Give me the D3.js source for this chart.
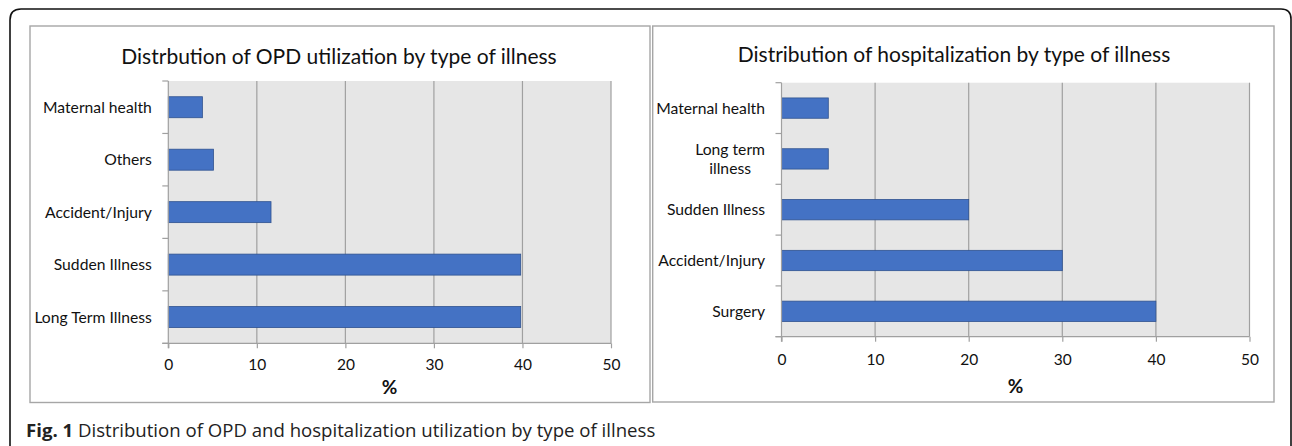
<!DOCTYPE html>
<html>
<head>
<meta charset="utf-8">
<script src="https://cdn.jsdelivr.net/npm/d3@7"></script>
<style>
  body { margin: 0; background: #fff; }
  svg { display: block; font-family: Lato, "Open Sans", sans-serif; }
</style>
</head>
<body>
<svg id="chart" width="1292" height="446"></svg>
<script>
// OPD panel
const opdCategories = ['Maternal health', 'Others', 'Accident/Injury', 'Sudden Illness', 'Long Term Illness'];
const opdValues = [3.85, 5.1, 11.6, 39.8, 39.8];
// hospitalization panel
const hospCategories = ['Maternal health', 'Long term\nillness', 'Sudden Illness', 'Accident/Injury', 'Surgery'];
const hospValues = [5, 5, 20, 30, 40];
const xTicks = [0, 10, 20, 30, 40, 50];

const titles = ['Distrbution of OPD utilization by type of illness', 'Distribution of hospitalization by type of illness'];
const axisLabel = '%';

let svg = d3.select('#chart');

// outer rounded frame (open at the bottom)
svg.append('path')
  .attr('d', 'M10,446 L10,20 Q10,9 21,9 L1281,9 Q1291,9 1291,19 L1291,446')
  .attr('fill', 'none')
  .attr('stroke', '#111')
  .attr('stroke-width', 1.6);

function drawPanel(opts) {
  let g = svg.append('g');

  // panel box
  g.append('rect')
    .attr('x', opts.box[0]).attr('y', opts.box[1])
    .attr('width', opts.box[2]).attr('height', opts.box[3])
    .attr('fill', '#fff')
    .attr('stroke', '#a6a6a6')
    .attr('stroke-width', 1.4);

  let x = d3.scaleLinear().domain([0, 50]).range([opts.plot[0], opts.plot[1]]);
  let y = d3.scaleBand().domain(opts.categories)
    .range([opts.plot[2], opts.plot[3]])
    .paddingInner(0.6).paddingOuter(0.3);

  // plot background
  g.append('rect')
    .attr('x', x(0)).attr('y', opts.plot[2])
    .attr('width', x(50) - x(0)).attr('height', opts.plot[3] - opts.plot[2])
    .attr('fill', '#e6e6e6');

  // vertical gridlines
  g.selectAll('.grid')
    .data(xTicks.slice(1))
    .enter().append('line')
    .attr('x1', d => x(d)).attr('x2', d => x(d))
    .attr('y1', opts.plot[2]).attr('y2', opts.plot[3])
    .attr('stroke', '#a0a0a0')
    .attr('stroke-width', 1.2);

  // bars
  g.selectAll('.bar')
    .data(opts.values)
    .enter().append('rect')
    .attr('x', x(0))
    .attr('y', (d, i) => y(opts.categories[i]))
    .attr('width', d => x(d) - x(0))
    .attr('height', y.bandwidth())
    .attr('fill', '#4472c4')
    .attr('stroke', '#2f528f')
    .attr('stroke-width', 0.8);

  // y axis line and ticks between categories
  let yBottom = opts.plot[3];
  g.append('line')
    .attr('x1', x(0)).attr('x2', x(0))
    .attr('y1', opts.plot[2]).attr('y2', yBottom + 5)
    .attr('stroke', '#a0a0a0').attr('stroke-width', 1.2);
  let bounds = d3.range(opts.categories.length + 1).map(i => opts.plot[2] + i * y.step());
  g.selectAll('.ytick')
    .data(bounds)
    .enter().append('line')
    .attr('x1', x(0) - 6).attr('x2', x(0))
    .attr('y1', d => d).attr('y2', d => d)
    .attr('stroke', '#a0a0a0').attr('stroke-width', 1.2);

  // x axis
  let xAxis = d3.axisBottom(x).tickValues(xTicks).tickSize(5).tickSizeOuter(0).tickPadding(10);
  let ax = g.append('g')
    .attr('transform', `translate(0,${yBottom})`)
    .call(xAxis);
  ax.select('.domain').attr('stroke', '#a0a0a0').attr('stroke-width', 1.2)
    .attr('d', `M${x(0) - 6},0H${x(50)}`);
  ax.selectAll('.tick line').attr('stroke', '#a0a0a0').attr('stroke-width', 1.2);
  ax.selectAll('.tick text')
    .attr('font-family', 'Lato, sans-serif')
    .attr('font-size', 15.5)
    .attr('fill', '#111')
    .attr('y', opts.tickY - yBottom)
    .attr('dy', '0.35em');

  // category labels
  opts.categories.forEach((c, i) => {
    let lines = c.split('\n');
    let cy = y(c) + y.bandwidth() / 2;
    let t = g.append('text')
      .attr('font-size', 15.7)
      .attr('fill', '#111');
    if (lines.length === 1) {
      t.attr('x', x(0) - 16.5).attr('y', cy).attr('dy', '0.35em')
        .attr('text-anchor', 'end').text(c);
    } else {
      // wrapped label: lines centred inside a right-aligned block
      t.attr('text-anchor', 'middle');
      lines.forEach((l, k) => {
        t.append('tspan').attr('x', 0).attr('y', cy + (k - (lines.length - 1) / 2) * 19.5)
          .attr('dy', '0.35em').text(l);
      });
      let w = d3.max(t.selectAll('tspan').nodes(), n => n.getComputedTextLength());
      t.selectAll('tspan').attr('x', x(0) - 16.5 - w / 2);
    }
  });

  // title
  g.append('text')
    .attr('x', opts.titleXY[0]).attr('y', opts.titleXY[1])
    .attr('dy', '0.35em')
    .attr('text-anchor', 'middle')
    .attr('font-size', 21)
    .attr('fill', '#111')
    .text(opts.title);

  // axis title
  g.append('text')
    .attr('x', (x(0) + x(50)) / 2).attr('y', opts.axisLabelY)
    .attr('dy', '0.35em')
    .attr('text-anchor', 'middle')
    .attr('font-size', 19)
    .attr('font-weight', 'bold')
    .attr('fill', '#111')
    .text(axisLabel);
}

drawPanel({
  categories: opdCategories, values: opdValues, title: titles[0],
  box: [30, 26, 620, 376.5],
  plot: [168.3, 611, 81, 343.3],
  titleXY: [339, 57], tickY: 365, axisLabelY: 387
});

drawPanel({
  categories: hospCategories, values: hospValues, title: titles[1],
  box: [652.7, 26, 621.3, 376],
  plot: [781.5, 1249.5, 82.7, 336.7],
  titleXY: [954, 54.3], tickY: 359.3, axisLabelY: 386.7
});

// figure caption
let cap = svg.append('text')
  .attr('x', 26).attr('y', 430)
  .attr('dy', '0.35em')
  .attr('font-family', '"Open Sans", sans-serif')
  .attr('font-size', 18.6)
  .attr('fill', '#222');
cap.append('tspan').attr('font-weight', 'bold').text('Fig. 1');
cap.append('tspan').text(' Distribution of OPD and hospitalization utilization by type of illness');
</script>
</body>
</html>
